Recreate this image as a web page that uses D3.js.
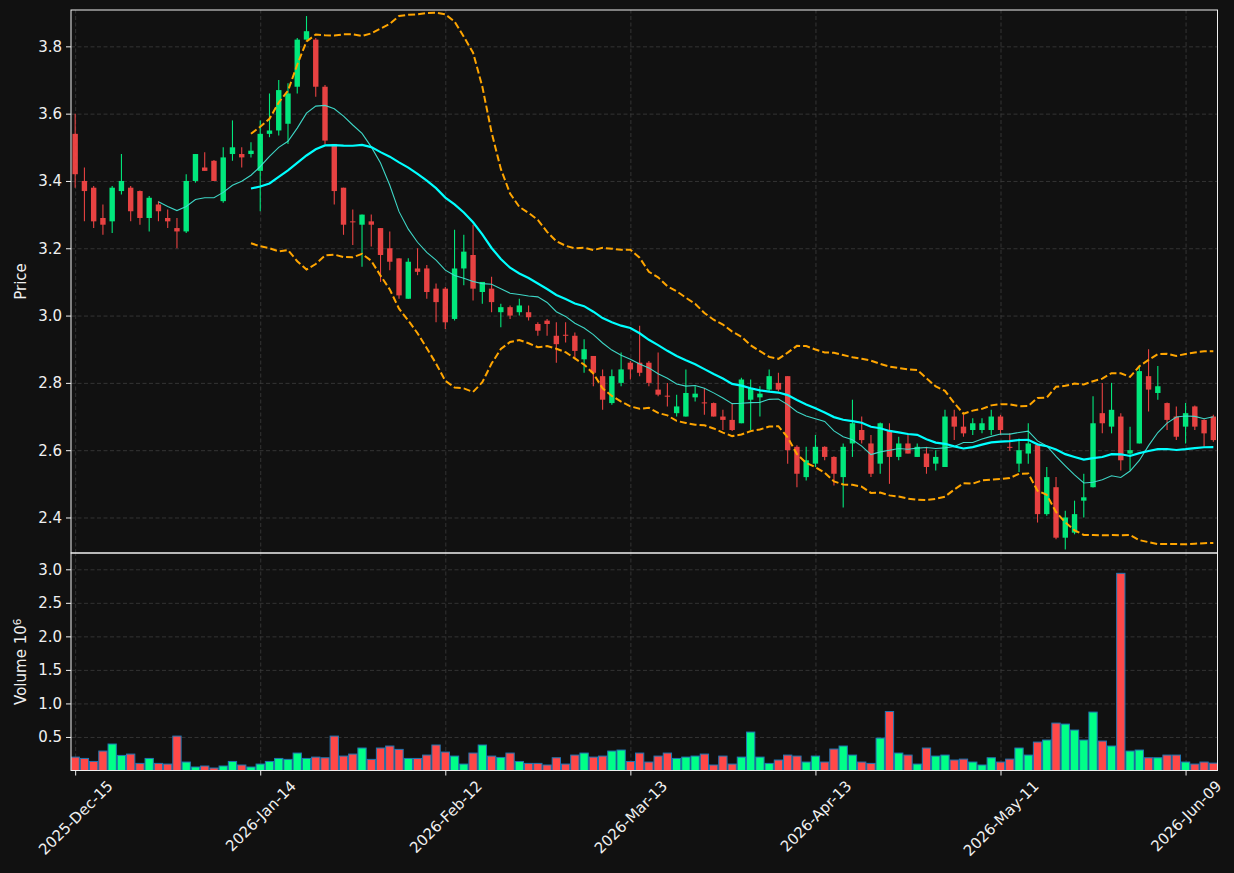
<!DOCTYPE html>
<meta charset="utf-8">
<style>
body { margin: 0; background: #111111; }
svg { display: block; font-family: "DejaVu Sans", sans-serif; }
.grid line { stroke: #3c3c3c; stroke-width: 0.8px; stroke-dasharray: 4,2.5; }
.grid path { stroke-width: 0; }
.axis text { fill: #f0f0f0; font-size: 15px; font-family: "DejaVu Sans", sans-serif; }
.axis line, .axis path { stroke: #f0f0f0; }
</style>
<body>
<script src="https://d3js.org/d3.v7.min.js"></script>
<script>
// daily candles, 124 sessions
var open  = [3.54,3.40,3.38,3.29,3.28,3.37,3.38,3.37,3.29,3.33,3.29,3.26,3.25,3.40,3.44,3.46,3.34,3.48,3.48,3.48,
             3.43,3.54,3.55,3.57,3.68,3.82,3.82,3.68,3.51,3.38,3.28,3.27,3.28,3.26,3.20,3.17,3.05,3.14,3.14,3.08,
             3.08,2.99,3.14,3.18,3.07,3.08,3.01,3.025,3.01,3.01,2.975,2.985,2.94,2.943,2.94,2.87,2.88,2.82,2.74,2.80,
             2.86,2.86,2.86,2.78,2.762,2.71,2.70,2.757,2.742,2.74,2.70,2.69,2.68,2.75,2.757,2.78,2.80,2.82,2.61,2.52,
             2.56,2.61,2.58,2.52,2.62,2.66,2.62,2.56,2.66,2.58,2.62,2.58,2.59,2.56,2.55,2.70,2.67,2.66,2.66,2.66,
             2.70,2.61,2.56,2.59,2.615,2.41,2.49,2.34,2.355,2.45,2.49,2.71,2.67,2.70,2.59,2.62,2.82,2.77,2.74,2.70,
             2.67,2.73,2.69,2.70];
var high  = [3.60,3.44,3.385,3.33,3.385,3.48,3.385,3.372,3.355,3.34,3.315,3.29,3.42,3.48,3.485,3.462,3.50,3.58,3.50,3.515,
             3.58,3.66,3.70,3.69,3.825,3.89,3.825,3.685,3.51,3.38,3.315,3.30,3.30,3.26,3.25,3.17,3.17,3.20,3.15,3.095,
             3.085,3.255,3.24,3.27,3.10,3.115,3.035,3.03,3.05,3.03,2.98,2.99,2.98,2.98,2.95,2.93,2.88,2.84,2.84,2.89,
             2.865,2.97,2.865,2.89,2.80,2.765,2.84,2.79,2.785,2.742,2.72,2.74,2.815,2.81,2.79,2.84,2.83,2.82,2.615,2.61,
             2.645,2.612,2.582,2.62,2.75,2.70,2.645,2.682,2.68,2.64,2.65,2.62,2.61,2.60,2.72,2.72,2.705,2.695,2.695,2.72,
             2.705,2.65,2.635,2.68,2.62,2.55,2.52,2.42,2.45,2.53,2.76,2.80,2.80,2.71,2.67,2.85,2.90,2.85,2.742,2.73,
             2.74,2.733,2.692,2.705];
var low   = [3.38,3.28,3.26,3.24,3.245,3.36,3.28,3.27,3.25,3.28,3.26,3.20,3.245,3.395,3.43,3.40,3.335,3.46,3.44,3.47,
             3.31,3.53,3.535,3.51,3.66,3.82,3.65,3.51,3.33,3.24,3.21,3.145,3.205,3.10,3.135,3.05,3.05,3.12,3.05,2.98,
             2.96,2.985,3.09,3.045,3.035,3.01,2.965,2.99,3.00,2.985,2.94,2.94,2.86,2.92,2.87,2.83,2.79,2.72,2.735,2.79,
             2.81,2.82,2.79,2.76,2.73,2.70,2.70,2.745,2.705,2.70,2.66,2.657,2.68,2.66,2.70,2.775,2.775,2.56,2.49,2.51,
             2.55,2.57,2.495,2.43,2.58,2.62,2.52,2.53,2.50,2.57,2.59,2.58,2.53,2.54,2.55,2.63,2.64,2.645,2.65,2.645,
             2.645,2.598,2.535,2.56,2.385,2.405,2.335,2.305,2.35,2.40,2.489,2.65,2.65,2.54,2.54,2.62,2.715,2.75,2.66,2.63,
             2.62,2.66,2.61,2.625];
var close = [3.42,3.37,3.28,3.27,3.38,3.40,3.31,3.29,3.35,3.31,3.28,3.25,3.40,3.48,3.43,3.40,3.47,3.50,3.47,3.49,
             3.54,3.55,3.67,3.66,3.82,3.845,3.68,3.52,3.37,3.27,3.278,3.30,3.27,3.18,3.16,3.06,3.16,3.13,3.07,3.04,
             2.98,3.14,3.19,3.08,3.10,3.04,3.025,3.00,3.03,2.995,2.955,2.975,2.915,2.94,2.895,2.90,2.83,2.75,2.82,2.84,
             2.84,2.83,2.80,2.765,2.76,2.73,2.77,2.768,2.74,2.70,2.69,2.66,2.81,2.785,2.768,2.82,2.78,2.60,2.53,2.57,
             2.61,2.58,2.53,2.61,2.68,2.63,2.53,2.68,2.58,2.62,2.59,2.61,2.55,2.58,2.70,2.67,2.65,2.68,2.68,2.70,
             2.66,2.607,2.60,2.62,2.41,2.52,2.34,2.40,2.41,2.46,2.68,2.68,2.72,2.57,2.60,2.835,2.78,2.79,2.69,2.64,
             2.71,2.67,2.65,2.63];
// volume in millions
var volume = [0.20,0.18,0.135,0.29,0.395,0.225,0.245,0.106,0.18,0.106,0.096,0.513,0.126,0.052,0.067,0.037,0.067,0.135,0.082,0.052,
              0.096,0.135,0.18,0.166,0.26,0.18,0.20,0.19,0.513,0.215,0.245,0.335,0.166,0.335,0.365,0.315,0.18,0.18,0.23,0.38,
              0.275,0.215,0.096,0.26,0.38,0.215,0.195,0.26,0.135,0.106,0.106,0.082,0.19,0.096,0.23,0.26,0.20,0.215,0.29,0.305,
              0.135,0.26,0.126,0.215,0.26,0.18,0.20,0.215,0.245,0.082,0.215,0.096,0.20,0.573,0.20,0.106,0.156,0.23,0.215,0.126,
              0.215,0.126,0.32,0.365,0.23,0.126,0.106,0.483,0.88,0.26,0.23,0.096,0.335,0.215,0.23,0.156,0.17,0.126,0.082,0.19,
              0.126,0.17,0.335,0.23,0.424,0.454,0.707,0.692,0.603,0.454,0.871,0.439,0.365,2.94,0.29,0.305,0.19,0.19,0.23,0.23,
              0.126,0.096,0.126,0.11];
var tickIdx = [0, 20, 40, 60, 80, 100, 120];
var tickLabels = ["2025-Dec-15", "2026-Jan-14", "2026-Feb-12", "2026-Mar-13", "2026-Apr-13", "2026-May-11", "2026-Jun-09"];
var priceTicks = [2.4, 2.6, 2.8, 3.0, 3.2, 3.4, 3.6, 3.8];
var volTicks = [0.5, 1.0, 1.5, 2.0, 2.5, 3.0];

var upColor = "#00ff88", downColor = "#ff4848";
var W = 1234, H = 873;
var left = 71, right = 1217.5, top1 = 10, bot1 = 553, bot2 = 770.5;

var data = close.map(function(c, i) {
  return {i: i, o: open[i], h: high[i], l: low[i], c: c, v: volume[i], up: c >= open[i]};
});

function sma(n) {
  return data.map(function(d, i) {
    if (i < n - 1) return null;
    return d3.mean(close.slice(i - n + 1, i + 1));
  });
}
var ma10 = sma(10), ma20 = sma(20);
var bbUp = ma20.map(function(m, i) { return m == null ? null : m + 2 * d3.deviation(close.slice(i - 19, i + 1)); });
var bbLo = ma20.map(function(m, i) { return m == null ? null : m - 2 * d3.deviation(close.slice(i - 19, i + 1)); });

var x = d3.scaleLinear().domain([-0.45, data.length - 0.55]).range([left, right]);
var y = d3.scaleLinear().domain([2.2945, 3.908]).range([bot1, top1]);
var yv = d3.scaleLinear().domain([0, 3.243]).range([bot2, bot1]);

var svg = d3.select("body").append("svg")
    .attr("width", W)
    .attr("height", H);
svg.append("rect").attr("width", W).attr("height", H).attr("fill", "#111111");

svg.append("clipPath").attr("id", "c1").append("rect")
    .attr("x", left).attr("y", top1).attr("width", right - left).attr("height", bot1 - top1);
svg.append("clipPath").attr("id", "c2").append("rect")
    .attr("x", left).attr("y", bot1).attr("width", right - left).attr("height", bot2 - bot1);

// gridlines
svg.append("g").attr("class", "grid")
    .attr("transform", "translate(" + left + ",0)")
    .call(d3.axisLeft(y).tickValues(priceTicks).tickSize(-(right - left)).tickFormat(""));
svg.append("g").attr("class", "grid")
    .attr("transform", "translate(" + left + ",0)")
    .call(d3.axisLeft(yv).tickValues(volTicks).tickSize(-(right - left)).tickFormat(""));
svg.append("g").attr("class", "grid")
    .attr("transform", "translate(0," + bot1 + ")")
    .call(d3.axisBottom(x).tickValues(tickIdx).tickSize(-(bot1 - top1)).tickFormat(""));
svg.append("g").attr("class", "grid")
    .attr("transform", "translate(0," + bot2 + ")")
    .call(d3.axisBottom(x).tickValues(tickIdx).tickSize(-(bot2 - bot1)).tickFormat(""));

// candles
var pg = svg.append("g").attr("clip-path", "url(#c1)");
var cw = 5.4;
var cg = pg.selectAll("g.candle").data(data).enter().append("g")
    .attr("opacity", 0.9);
cg.append("line")
    .attr("x1", function(d) { return x(d.i); })
    .attr("x2", function(d) { return x(d.i); })
    .attr("y1", function(d) { return y(d.h); })
    .attr("y2", function(d) { return y(d.l); })
    .attr("stroke", function(d) { return d.up ? upColor : downColor; })
    .attr("stroke-width", 1.1);
cg.append("rect")
    .attr("x", function(d) { return x(d.i) - cw / 2; })
    .attr("width", cw)
    .attr("y", function(d) { return y(Math.max(d.o, d.c)); })
    .attr("height", function(d) { return Math.max(1, Math.abs(y(d.o) - y(d.c))); })
    .attr("fill", function(d) { return d.up ? upColor : downColor; });

// moving averages and bands
function pathOf(arr) {
  return d3.line()
    .defined(function(d) { return d != null; })
    .x(function(d, i) { return x(i); })
    .y(function(d) { return y(d); })(arr);
}
pg.append("path").attr("d", pathOf(ma10))
    .attr("fill", "none").attr("stroke", "#40e0d0").attr("stroke-width", 1.1).attr("opacity", 0.95);
pg.append("path").attr("d", pathOf(ma20))
    .attr("fill", "none").attr("stroke", "#00ffff").attr("stroke-width", 2.2);
[bbUp, bbLo].forEach(function(b) {
  pg.append("path").attr("d", pathOf(b))
      .attr("fill", "none").attr("stroke", "#ffa500").attr("stroke-width", 2)
      .attr("stroke-dasharray", "7,3");
});

// volume
var vg = svg.append("g").attr("clip-path", "url(#c2)");
vg.selectAll("rect").data(data).enter().append("rect")
    .attr("x", function(d) { return x(d.i) - 4.15; })
    .attr("width", 8.3)
    .attr("y", function(d) { return yv(d.v); })
    .attr("height", function(d) { return yv(0) - yv(d.v); })
    .attr("fill", function(d) { return d.up ? upColor : downColor; })
    .attr("stroke", "#1f77b4")
    .attr("stroke-width", 1);

// axes
svg.append("g").attr("class", "axis")
    .attr("transform", "translate(" + left + ",0)")
    .call(d3.axisLeft(y).tickValues(priceTicks).tickSize(5).tickPadding(4).tickFormat(d3.format(".1f")))
    .call(function(g) { g.select(".domain").remove(); });
svg.append("g").attr("class", "axis")
    .attr("transform", "translate(" + left + ",0)")
    .call(d3.axisLeft(yv).tickValues(volTicks).tickSize(5).tickPadding(4).tickFormat(d3.format(".1f")))
    .call(function(g) { g.select(".domain").remove(); });
var xa = svg.append("g").attr("class", "axis")
    .attr("transform", "translate(0," + bot2 + ")")
    .call(d3.axisBottom(x).tickValues(tickIdx).tickSize(5)
      .tickFormat(function(d, i) { return tickLabels[i]; }));
xa.select(".domain").remove();
// rotated labels centred on the tick, like matplotlib's rotation=45
xa.selectAll("text")
    .attr("y", 0)
    .attr("dy", "0.35em")
    .attr("text-anchor", "middle")
    .attr("transform", function() {
      var L = this.getComputedTextLength();
      var half = (L + 11) / (2 * Math.SQRT2);
      return "translate(0," + (9 + half) + ") rotate(-45)";
    });

// frames
[[top1, bot1], [bot1, bot2]].forEach(function(p) {
  svg.append("rect")
      .attr("x", left).attr("y", p[0])
      .attr("width", right - left).attr("height", p[1] - p[0])
      .attr("fill", "none").attr("stroke", "#f0f0f0").attr("stroke-width", 1);
});

// labels
svg.append("text")
    .attr("transform", "translate(26," + ((top1 + bot1) / 2) + ") rotate(-90)")
    .attr("text-anchor", "middle")
    .attr("fill", "#f0f0f0").style("font-size", "15px")
    .text("Price");
var vl = svg.append("text")
    .attr("transform", "translate(26," + ((bot1 + bot2) / 2) + ") rotate(-90)")
    .attr("text-anchor", "middle")
    .attr("fill", "#f0f0f0").style("font-size", "15px");
vl.append("tspan").text("Volume  10");
vl.append("tspan").attr("dy", "-0.45em").style("font-size", "10.5px").text("6");
</script>
</body>
